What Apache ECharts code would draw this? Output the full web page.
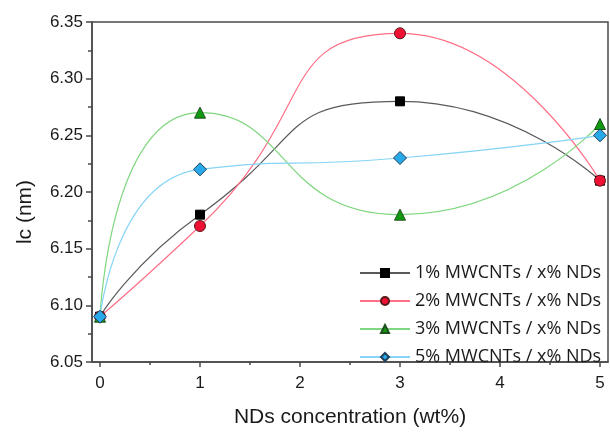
<!DOCTYPE html>
<html>
<head>
<meta charset="utf-8">
<script src="https://cdn.jsdelivr.net/npm/echarts@6/dist/echarts.min.js"></script>
<style>
    html, body { margin: 0; padding: 0; background: #fff; }
    #chart { width: 610px; height: 433px; }
</style>
</head>
<body>
<div id="chart"></div>
<script>
const concentrations = [0, 1, 3, 5];
const seriesNames = [
    '1% MWCNTs / x% NDs',
    '2% MWCNTs / x% NDs',
    '3% MWCNTs / x% NDs',
    '5% MWCNTs / x% NDs',
];
const lc1 = [6.09, 6.18, 6.28, 6.21];
const lc2 = [6.09, 6.17, 6.34, 6.21];
const lc3 = [6.09, 6.27, 6.18, 6.26];
const lc5 = [6.09, 6.22, 6.23, 6.25];
const xTicks = [0, 1, 2, 3, 4, 5];
const xMinorTicks = [0.5, 1.5, 2.5, 3.5, 4.5];

const labelFont = 'Liberation Sans, Arial, sans-serif';
const axisColor = '#4a4a4a';

function pairs(values) {
    return concentrations.map((x, i) => [x, values[i]]);
}

const styles = [
    { line: '#5a5a5a', fill: '#000000', border: '#000000', symbol: 'rect', size: 9 },
    { line: '#ff6f86', fill: '#ee1133', border: '#5a1a1a', symbol: 'circle', size: 11 },
    { line: '#7ed67e', fill: '#109a10', border: '#1f4f1f', symbol: 'triangle', size: 11 },
    { line: '#86d4f6', fill: '#2aa9ea', border: '#1f3f5a', symbol: 'diamond', size: 13 },
];

const chart = echarts.init(document.getElementById('chart'), null, { renderer: 'canvas' });

chart.setOption({
    animation: false,
    grid: {
        left: 92,
        top: 22,
        right: 2,
        bottom: 60,
        show: true,
        borderColor: axisColor,
        borderWidth: 1.5,
    },
    legend: {
        orient: 'vertical',
        left: 354,
        top: 259,
        itemWidth: 50,
        itemHeight: 10,
        itemGap: 10,
        data: seriesNames,
        textStyle: {
            fontFamily: 'Open Sans, sans-serif',
            fontSize: 18,
            color: '#1a1a1a',
            lineHeight: 18,
        },
    },
    xAxis: [{
        type: 'value',
        min: -0.08,
        max: 5.08,
        splitLine: { show: false },
        axisLine: { onZero: false, lineStyle: { color: axisColor, width: 1.5 } },
        axisTick: { customValues: xTicks, length: 5, lineStyle: { color: axisColor, width: 1.5 } },
        axisLabel: {
            customValues: xTicks,
            fontFamily: labelFont,
            fontSize: 17,
            color: '#1a1a1a',
            margin: 13,
        },
        name: 'NDs concentration (wt%)',
        nameLocation: 'middle',
        nameGap: 45,
        nameTextStyle: { fontFamily: labelFont, fontSize: 21, color: '#1a1a1a' },
    }, {
        type: 'value',
        min: -0.08,
        max: 5.08,
        position: 'bottom',
        splitLine: { show: false },
        axisLine: { show: false },
        axisTick: { customValues: xMinorTicks, length: 3, lineStyle: { color: axisColor, width: 1.5 } },
        axisLabel: { show: false },
    }],
    yAxis: {
        type: 'value',
        min: 6.05,
        max: 6.35,
        interval: 0.05,
        splitLine: { show: false },
        axisLine: { onZero: false, lineStyle: { color: axisColor, width: 1.5 } },
        axisTick: { length: 6, lineStyle: { color: axisColor, width: 1.5 } },
        minorTick: { show: true, splitNumber: 2, length: 4, lineStyle: { color: axisColor, width: 1.5 } },
        axisLabel: {
            fontFamily: labelFont,
            fontSize: 17,
            color: '#1a1a1a',
            margin: 9,
            formatter: (value) => value.toFixed(2),
        },
    },
    graphic: [{
        type: 'text',
        x: 25,
        y: 212,
        rotation: Math.PI / 2,
        style: {
            text: 'lc (nm)',
            fontFamily: labelFont,
            fontSize: 21,
            fill: '#1a1a1a',
            align: 'center',
            verticalAlign: 'middle',
        },
    }],
    series: [lc1, lc2, lc3, lc5].map((values, i) => ({
        name: seriesNames[i],
        type: 'line',
        data: pairs(values),
        smooth: 0.6,
        symbol: styles[i].symbol,
        symbolSize: styles[i].size,
        lineStyle: { color: styles[i].line, width: 1.2 },
        itemStyle: { color: styles[i].fill, borderColor: styles[i].border, borderWidth: 1 },
        z: 2 + i,
    })),
});
</script>
</body>
</html>
